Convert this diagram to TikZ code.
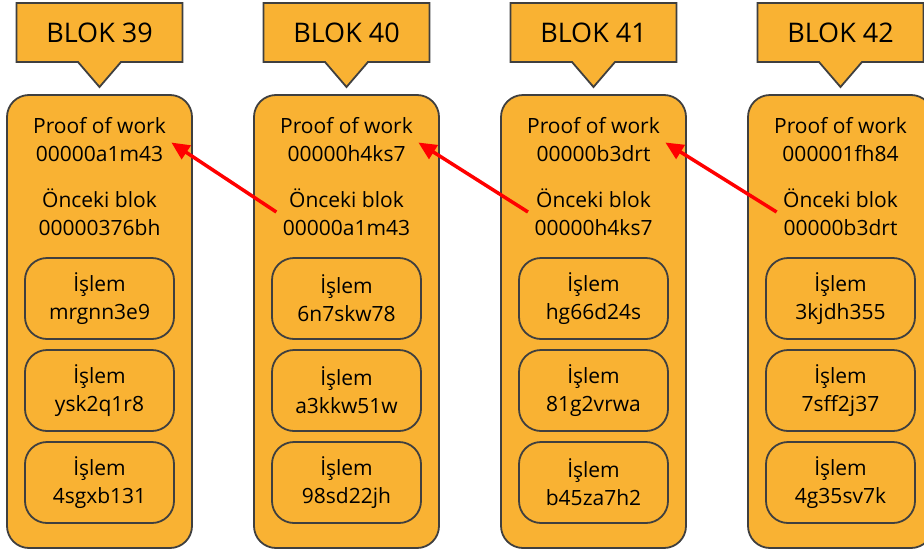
\documentclass[tikz,border=0pt]{standalone}
\usepackage{fontspec}
\setmainfont{Open Sans}
\usetikzlibrary{arrows.meta, calc, shapes.callouts}
\definecolor{blokfill}{HTML}{F9B233}
\definecolor{blokline}{HTML}{3F3F3F}

\begin{document}
\begin{tikzpicture}[x=1pt, y=-1pt,
  box/.style={draw=blokline, fill=blokfill, line width=1.8pt},
  lbl/.style={box, rectangle callout, minimum width=166pt, minimum height=59pt, callout pointer width=43pt, font=\fontsize{27}{32}\selectfont},
  blok/.style={box, rounded corners=22pt, minimum width=185pt, minimum height=453pt},
  islem/.style={box, rounded corners=22pt, minimum width=149pt, minimum height=81pt, align=center, font=\fontsize{21}{28}\selectfont},
  txt/.style={align=center, font=\fontsize{21}{28}\selectfont},
  link/.style={-{Triangle[length=18pt, width=16pt]}, draw=red, line width=3.5pt}]
\useasboundingbox (0,0) rectangle (924,552);
\foreach \n/\pow/\prev/\ta/\tb/\tc [count=\i from 0] in {
  39/00000a1m43/00000376bh/mrgnn3e9/ysk2q1r8/4sgxb131,
  40/00000h4ks7/00000a1m43/6n7skw78/a3kkw51w/98sd22jh,
  41/00000b3drt/00000h4ks7/hg66d24s/81g2vrwa/b45za7h2,
  42/000001fh84/00000b3drt/3kjdh355/7sff2j37/4g35sv7k}{
  \pgfmathsetmacro{\x}{99.5+247*\i}
  \node[blok] (blok\n) at (\x,321.5) {};
  \node[lbl, callout absolute pointer={(\x,87)}] (lbl\n) at (\x,32.5) {BLOK \n};
  \node[txt] (pow\n) at (\x,139.5) {Proof of work\\\pow};
  \node[txt] (prev\n) at (\x,212) {Önceki blok\\\prev};
  \node[islem] (txa\n) at (\x,298.5) {İşlem\\\ta};
  \node[islem] (txb\n) at (\x,390.5) {İşlem\\\tb};
  \node[islem] (txc\n) at (\x,482.5) {İşlem\\\tc};
}
% zincir baglantilari
\foreach \a/\b in {39/40, 40/41, 41/42}
  \draw[link] ($(prev\b.west)+(-3,0)$) -- ($(pow\a.east)+(2,3)$);
\end{tikzpicture}
\end{document}
